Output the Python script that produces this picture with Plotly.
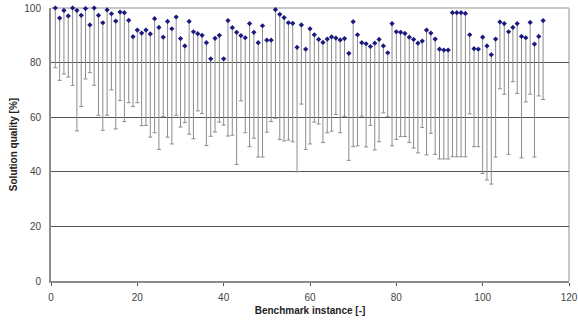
import plotly.graph_objects as go

instance = list(range(1, 115))

best_quality = [
    100.0, 96.3, 99.1, 97.1, 100.0, 99.1, 97.3, 99.8, 93.8, 100.0,
    97.3, 94.6, 99.3, 97.9, 95.2, 98.5, 98.3, 95.5, 89.5, 91.9,
    90.8, 91.9, 90.5, 96.1, 92.9, 89.3, 95.1, 92.4, 96.7, 88.8,
    86.1, 95.1, 91.3, 90.6, 90.0, 87.3, 81.4, 88.9, 90.0, 81.4,
    95.4, 92.8, 91.1, 89.9, 89.1, 94.3, 91.1, 87.3, 93.5, 88.2,
    88.2, 99.4, 97.7, 96.5, 94.6, 94.4, 85.6, 93.8, 84.9, 92.4,
    90.2, 88.5, 87.4, 88.6, 89.4, 89.0, 88.3, 88.8, 83.4, 95.0,
    90.2, 87.3, 86.9, 85.9, 87.1, 88.5, 86.1, 83.6, 94.3, 91.3,
    91.1, 90.7, 89.3, 88.5, 87.1, 87.9, 91.9, 90.8, 88.6, 84.9,
    84.6, 84.6, 98.3, 98.3, 98.3, 98.0, 90.2, 85.1, 84.9, 89.3,
    86.1, 82.9, 88.6, 94.9, 94.3, 91.3, 92.9, 94.3, 89.6, 89.1,
    94.7, 86.8, 89.6, 95.4,
]

worst_quality = [
    78.1, 73.5, 75.8, 74.7, 71.6, 55.0, 63.9, 74.0, 76.3, 71.7,
    60.7, 55.2, 60.7, 70.0, 55.7, 66.1, 58.4, 65.3, 63.9, 65.3,
    56.9, 57.0, 52.7, 54.3, 48.2, 60.2, 52.7, 50.2, 60.7, 56.4,
    58.0, 53.8, 52.1, 62.3, 61.3, 49.6, 53.0, 54.6, 58.2, 57.1,
    53.1, 53.4, 42.7, 66.0, 54.3, 49.2, 52.3, 45.4, 45.4, 54.5,
    58.4, 59.6, 51.8, 51.3, 51.6, 51.0, 40.0, 64.8, 48.2, 50.2,
    58.2, 57.5, 50.7, 54.3, 54.9, 61.0, 54.3, 60.3, 44.2, 49.2,
    49.5, 60.4, 49.1, 57.0, 48.0, 51.0, 61.6, 60.2, 49.5, 51.9,
    52.9, 52.9, 50.7, 48.7, 46.9, 56.2, 46.2, 54.1, 46.4, 44.7,
    44.7, 44.7, 45.5, 45.5, 45.5, 45.5, 61.2, 49.2, 49.2, 39.4,
    37.0, 35.5, 45.4, 70.4, 68.4, 46.4, 73.0, 68.7, 45.1, 65.6,
    68.4, 45.4, 67.8, 66.5,
]

x_ticks = [0, 20, 40, 60, 80, 100, 120]
y_ticks = [0, 20, 40, 60, 80, 100]

spread = [b - w for b, w in zip(best_quality, worst_quality)]

fig = go.Figure()
fig.add_trace(go.Scatter(
    x=instance,
    y=best_quality,
    mode="markers",
    marker=dict(symbol="diamond", size=4, color="#1a1a80"),
    error_y=dict(
        type="data",
        symmetric=False,
        array=[0] * len(spread),
        arrayminus=spread,
        color="#8c8c8c",
        thickness=1,
        width=2,
    ),
    showlegend=False,
    cliponaxis=False,
))

font_family = "Liberation Sans, Arial, sans-serif"

fig.update_layout(
    width=578,
    height=329,
    margin=dict(l=51, r=9, t=8, b=48),
    paper_bgcolor="white",
    plot_bgcolor="white",
    font=dict(family=font_family, size=10, color="#333333"),
    xaxis=dict(
        range=[0, 120],
        tickvals=x_ticks,
        ticktext=[str(v) for v in x_ticks],
        showgrid=False,
        zeroline=False,
        showline=True,
        linecolor="#8c8c8c",
        linewidth=2,
        mirror=False,
        ticks="outside",
        ticklen=3,
        tickcolor="#555555",
        ticklabelstandoff=3,
        automargin=False,
        tickfont=dict(family=font_family, size=10, color="#444444"),
        title=dict(text="<b>Benchmark instance [-]</b>", standoff=5,
                   font=dict(family=font_family, size=10, color="#222222")),
    ),
    yaxis=dict(
        range=[0, 100],
        tickvals=y_ticks,
        ticktext=[str(v) for v in y_ticks],
        showgrid=True,
        gridcolor="#555555",
        gridwidth=1,
        zeroline=False,
        showline=True,
        linecolor="#8c8c8c",
        linewidth=2,
        ticks="",
        ticklabelstandoff=6,
        automargin=False,
        tickfont=dict(family=font_family, size=10, color="#444444"),
        title=dict(text="<b>Solution quality [%]</b>", standoff=5,
                   font=dict(family=font_family, size=10, color="#222222")),
    ),
    shapes=[
        dict(type="line", xref="paper", yref="paper", x0=0, x1=1, y0=1, y1=1,
             line=dict(color="#c8c8c8", width=2), layer="below"),
        dict(type="line", xref="paper", yref="paper", x0=1, x1=1, y0=0, y1=1,
             line=dict(color="#c8c8c8", width=2), layer="below"),
    ],
)

fig.write_html(
    "out.html",
    config={"displayModeBar": False},
    post_script="document.body.style.margin='0';document.body.style.padding='0';",
)
